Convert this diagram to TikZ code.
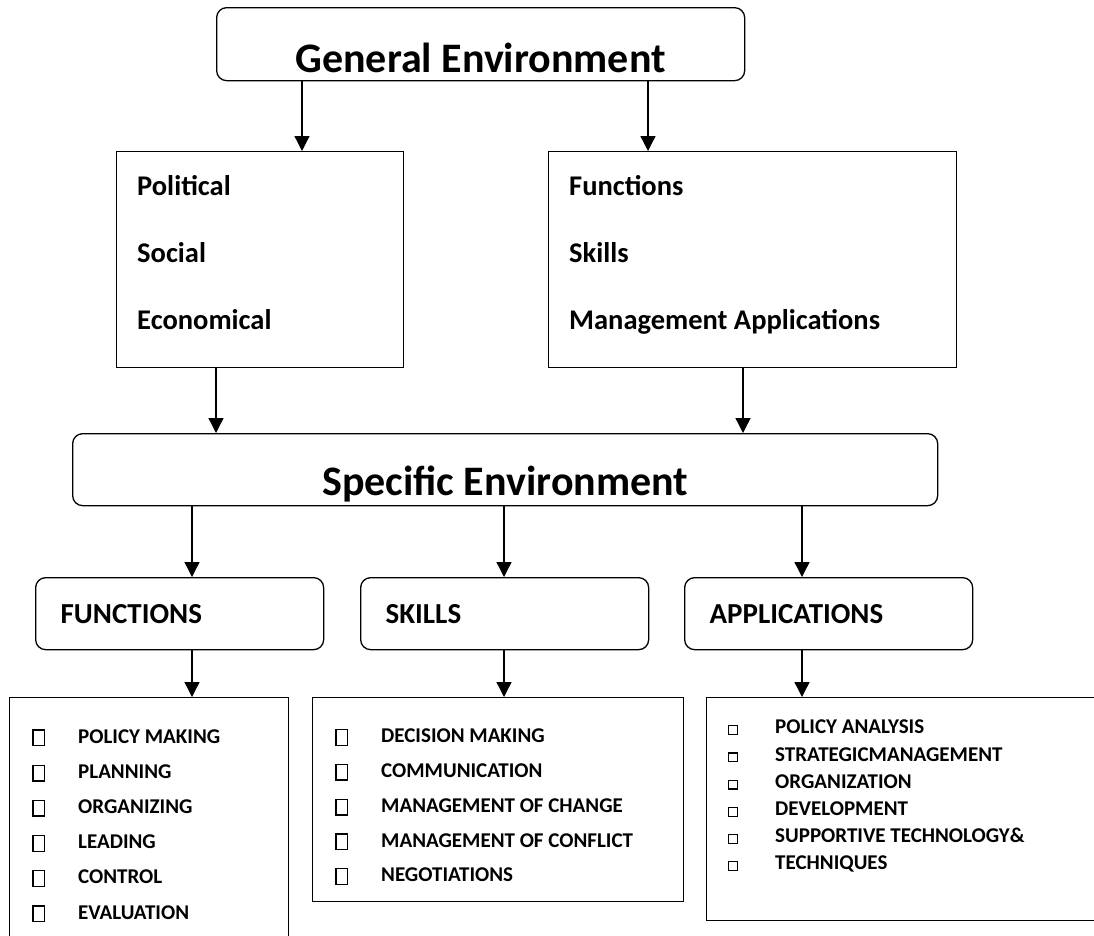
\documentclass[tikz,border=0pt]{standalone}
\usepackage{fontspec}
\setmainfont{Carlito}
\usetikzlibrary{arrows.meta,positioning}

% hollow squares used as list bullets
\newcommand{\sqbig}{\raisebox{-2pt}{\setlength{\fboxsep}{0pt}\setlength{\fboxrule}{1.3pt}\fbox{\rule{0pt}{14.4pt}\hspace{10.4pt}}}}
\newcommand{\sqsmall}{\setlength{\fboxsep}{0pt}\setlength{\fboxrule}{1.2pt}\fbox{\rule{0pt}{7.6pt}\hspace{7.6pt}}}

\begin{document}
\begin{tikzpicture}[x=1pt, y=-1pt,
  >={Triangle[width=15pt,length=15pt]},
  lw/.style={line width=1.3pt},
  roundbox/.style={draw, lw, rounded corners=10pt, inner sep=0pt, anchor=north west},
  panel/.style={draw, lw, inner sep=0pt, anchor=north west},
  bigtitle/.style={font=\bfseries\fontsize{42}{50}\selectfont},
  headbox/.style={roundbox, minimum height=72pt, text width=238pt, align=left,
    inner xsep=25pt, font=\bfseries\fontsize{29}{34}\selectfont},
  item/.style={anchor=base west, inner sep=0pt, font=\bfseries\fontsize{28.5}{34}\selectfont},
  listitem/.style={anchor=base west, inner sep=0pt, font=\bfseries\fontsize{21}{25}\selectfont}]
  \useasboundingbox (0,0) rectangle (1094,935);
  \clip (0,0) rectangle (1094,935);

  % columns of the connectors
  \coordinate (cl) at (302,0);
  \coordinate (cr) at (648,0);
  \coordinate (dl) at (216,0);
  \coordinate (dr) at (743,0);
  \coordinate (c1) at (192,0);
  \coordinate (c2) at (504,0);
  \coordinate (c3) at (802,0);

  % general environment and its two panels
  \node[roundbox, bigtitle, minimum width=528pt, text height=65pt, text depth=8pt] (general) at (216,7)
    {General Environment};
  \node[panel, minimum width=287pt, minimum height=216pt] (polbox) at (116,151) {};
  \node[panel, minimum width=408pt, minimum height=216pt] (fsmbox) at (548,151) {};
  \foreach \txt [count=\i] in {Political, Social, Economical}
    \node[item] (pol\i) at (137,128+67*\i) {\txt};
  \foreach \txt [count=\i] in {Functions, Skills, Management Applications}
    \node[item] (fsm\i) at (569,128+67*\i) {\txt};

  % specific environment
  \node[roundbox, bigtitle, minimum width=865pt, text height=62pt, text depth=10pt] (specific) at (72,433)
    {Specific Environment};

  \node[headbox] (functions) at (35,577) {FUNCTIONS};
  \node[headbox] (skills) at (360,577) {SKILLS};
  \node[headbox] (applications) at (684,577) {APPLICATIONS};

  % lists
  \node[panel, minimum width=279pt, minimum height=260pt] (funclist) at (9,697) {};
  \node[panel, minimum width=371pt, minimum height=204pt] (skilllist) at (312,697) {};
  \node[panel, minimum width=420pt, minimum height=223pt] (applist) at (706,697) {};
  \foreach \txt [count=\i] in {POLICY MAKING, PLANNING, ORGANIZING, LEADING, CONTROL, EVALUATION}
    \node[listitem] (fn\i) at (32,707.8+35.2*\i) {\makebox[46pt][l]{\sqbig}\txt};
  \foreach \txt [count=\i] in {DECISION MAKING, COMMUNICATION, MANAGEMENT OF CHANGE,
      MANAGEMENT OF CONFLICT, NEGOTIATIONS}
    \node[listitem] (sk\i) at (335,707.8+34.8*\i) {\makebox[46pt][l]{\sqbig}\txt};
  \foreach \txt [count=\i] in {POLICY ANALYSIS, STRATEGICMANAGEMENT, ORGANIZATION, DEVELOPMENT,
      SUPPORTIVE TECHNOLOGY\&, TECHNIQUES}
    \node[listitem] (ap\i) at (728,706.7+27.2*\i) {\makebox[47pt][l]{\sqsmall}\txt};

  % connectors
  \draw[->, lw] (general.south -| cl) -- (polbox.north -| cl);
  \draw[->, lw] (general.south -| cr) -- (fsmbox.north -| cr);
  \draw[->, lw] (polbox.south -| dl) -- (specific.north -| dl);
  \draw[->, lw] (fsmbox.south -| dr) -- (specific.north -| dr);
  \draw[->, lw] (specific.south -| c1) -- (functions.north -| c1);
  \draw[->, lw] (specific.south -| c2) -- (skills.north -| c2);
  \draw[->, lw] (specific.south -| c3) -- (applications.north -| c3);
  \draw[->, lw] (functions.south -| c1) -- (funclist.north -| c1);
  \draw[->, lw] (skills.south -| c2) -- (skilllist.north -| c2);
  \draw[->, lw] (applications.south -| c3) -- (applist.north -| c3);
\end{tikzpicture}
\end{document}
